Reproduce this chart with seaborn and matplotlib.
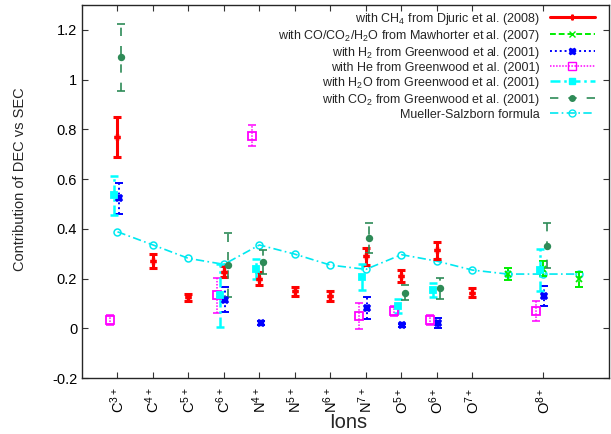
import numpy as np
import pandas as pd
import matplotlib
matplotlib.use('Agg')
import matplotlib.pyplot as plt
import seaborn as sns
from matplotlib.lines import Line2D

# ions on the x axis (positions 11 and 13 carry no tick label)
ion_labels = ['C$^{3+}$', 'C$^{4+}$', 'C$^{5+}$', 'C$^{6+}$', 'N$^{4+}$', 'N$^{5+}$',
              'N$^{6+}$', 'N$^{7+}$', 'O$^{5+}$', 'O$^{6+}$', 'O$^{7+}$', 'O$^{8+}$']
ion_pos = [0, 1, 2, 3, 4, 5, 6, 7, 8, 9, 10, 12]

# CH4, Djuric et al. (2008)
ch4_pos = [0, 1, 2, 3, 4, 5, 6, 7, 8, 9, 10]
ch4_val = [0.77, 0.27, 0.125, 0.228, 0.2, 0.149, 0.13, 0.29, 0.21, 0.313, 0.143]
ch4_err = [0.08, 0.028, 0.014, 0.022, 0.025, 0.018, 0.019, 0.034, 0.025, 0.035, 0.018]

# CO/CO2/H2O, Mawhorter et al. (2007)
maw_pos = [11, 12, 13]
maw_val = [0.217, 0.24, 0.197]
maw_err = [0.024, 0.03, 0.03]

greenwood_pos = [0, 3, 4, 7, 8, 9, 12]
h2_val = [0.522, 0.115, 0.023, 0.083, 0.013, 0.02, 0.13]
h2_err = [0.062, 0.05, 0.008, 0.044, 0.006, 0.02, 0.04]
he_val = [0.035, 0.132, 0.775, 0.048, 0.068, 0.035, 0.068]
he_err = [0.02, 0.07, 0.043, 0.052, 0.02, 0.02, 0.04]
h2o_val = [0.534, 0.132, 0.24, 0.207, 0.09, 0.153, 0.234]
h2o_err = [0.078, 0.126, 0.04, 0.053, 0.029, 0.028, 0.083]
co2_val = [1.09, 0.254, 0.267, 0.364, 0.142, 0.16, 0.332]
co2_err = [0.134, 0.128, 0.048, 0.061, 0.03, 0.042, 0.09]

# Mueller-Salzborn formula
ms_pos = list(range(14))
ms_val = [0.388, 0.335, 0.281, 0.257, 0.335, 0.298, 0.254, 0.237, 0.296, 0.27,
          0.234, 0.218, 0.218, 0.218]

sns.set_style('ticks')
plt.rcParams['font.family'] = ['Liberation Sans', 'DejaVu Sans']
plt.rcParams['mathtext.fontset'] = 'custom'
plt.rcParams['mathtext.rm'] = 'Liberation Sans'
plt.rcParams['mathtext.it'] = 'Liberation Sans:italic'
plt.rcParams['mathtext.bf'] = 'Liberation Sans:bold'

fig = plt.figure(figsize=(6.11, 4.34), dpi=100)
ax = fig.add_axes([82 / 611, 1 - 378 / 434, 527 / 611, 373 / 434])

df_ms = pd.DataFrame({'pos': ms_pos, 'val': ms_val})
sns.lineplot(data=df_ms, x='pos', y='val', ax=ax, color='#00e8f0', lw=1.2,
             linestyle=(0, (5, 2, 1, 2)), marker='o', mfc='none', mec='#00e8f0',
             mew=1.1, ms=5, zorder=3)

series = [
    # pos, val, err, offset, colour, linestyle, lw, marker, mfc, ms
    (ch4_pos, ch4_val, ch4_err, 0.0, '#ff0000', '-', 2.2, 'P', '#ff0000', 3.5),
    (maw_pos, maw_val, maw_err, 0.0, '#00ee00', (0, (3, 1.5)), 1.4, 'x', '#00ee00', 5),
    (greenwood_pos, h2_val, h2_err, 0.03, '#0000ff', (0, (1, 1.5)), 1.4, 'X', '#0000ff', 5),
    (greenwood_pos, he_val, he_err, -0.2, '#ff00ff', (0, (1, 1)), 1.1, 's', 'none', 5.5),
    (greenwood_pos, h2o_val, h2o_err, -0.1, '#00ffff', (0, (4, 1.5, 1, 1.5)), 1.8, 's', '#00ffff', 5),
    (greenwood_pos, co2_val, co2_err, 0.1, '#2e8b57', (0, (5, 6)), 1.2, 'o', '#2e8b57', 4),
]
for pos, val, err, off, col, ls, lw, mk, mfc, ms in series:
    x = np.array(pos) + off
    eb = ax.errorbar(x, val, yerr=err, fmt='none', ecolor=col, elinewidth=lw,
                     capsize=3, capthick=lw, zorder=4)
    eb[2][0].set_linestyle(ls)
    ax.plot(x, val, ls='none', marker=mk, color=col, mfc=mfc, mec=col,
            ms=ms, mew=1.3, zorder=5)

ax.set_xlim(-1, 13.85)
ax.set_ylim(-0.2, 1.3)
ax.set_yticks([-0.2, 0, 0.2, 0.4, 0.6, 0.8, 1, 1.2])
ax.set_yticklabels(['-0.2', '0', '0.2', '0.4', '0.6', '0.8', '1', '1.2'])
ax.set_xticks(ion_pos)
ax.set_xticklabels(ion_labels, rotation=90)
ax.tick_params(direction='in', length=4, width=0.8, top=True, right=True,
               labelsize=10.5, colors='#333333', labelcolor='black')
ax.tick_params(axis='x', pad=7)
for s in ax.spines.values():
    s.set_linewidth(1.0)

ax.set_xlabel('Ions', fontsize=14.5)
ax.set_ylabel('Contribution of DEC vs SEC', fontsize=10.5)
ax.xaxis.set_label_coords(0.505, -0.095)
ax.yaxis.set_label_coords(-0.105, 0.534)

handles = [
    Line2D([], [], color='#ff0000', lw=2.2, ls='-', marker='P', ms=3.5),
    Line2D([], [], color='#00ee00', lw=1.4, ls=(0, (3, 1.5)), marker='x', ms=5),
    Line2D([], [], color='#0000ff', lw=1.4, ls=(0, (1, 1.5)), marker='X', ms=5),
    Line2D([], [], color='#ff00ff', lw=1.1, ls=(0, (1, 1)), marker='s', mfc='none', ms=5.5),
    Line2D([], [], color='#00ffff', lw=1.8, ls=(0, (4, 1.5, 1, 1.5)), marker='s', ms=5),
    Line2D([], [], color='#2e8b57', lw=1.2, ls=(0, (5, 6)), marker='o', ms=4),
    Line2D([], [], color='#00e8f0', lw=1.2, ls=(0, (5, 2, 1, 2)), marker='o', mfc='none', ms=5),
]
labels = [
    'with CH$_4$ from Djuric et al. (2008)',
    'with CO/CO$_2$/H$_2$O from Mawhorter et al. (2007)',
    'with H$_2$ from Greenwood et al. (2001)',
    'with He from Greenwood et al. (2001)',
    'with H$_2$O from Greenwood et al. (2001)',
    'with CO$_2$ from Greenwood et al. (2001)',
    'Mueller-Salzborn formula',
]
ax.legend(handles, labels, loc='upper right', bbox_to_anchor=(0.973, 0.985),
          frameon=False, markerfirst=False, fontsize=9, handlelength=3.6,
          handletextpad=0.8, labelspacing=0.08, borderpad=0, borderaxespad=0)

fig.savefig('out.png', dpi=100)
